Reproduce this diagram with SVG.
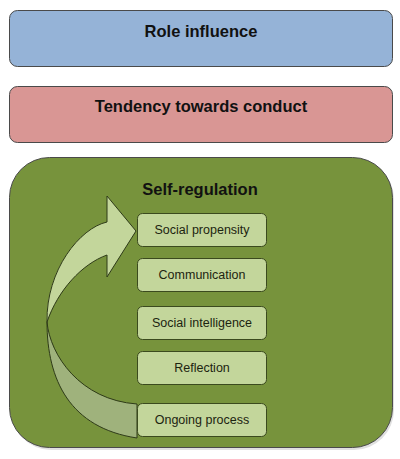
<svg xmlns="http://www.w3.org/2000/svg" width="400" height="459" viewBox="0 0 400 459">
<style>
.title{font-family:"Liberation Sans",Arial,sans-serif;font-weight:bold;font-size:16.5px;fill:#111;text-anchor:middle}
.item{font-family:"Liberation Sans",Arial,sans-serif;font-size:12.5px;fill:#1c2410;text-anchor:middle}
.outer{stroke:#4a4a4a;stroke-width:1}
.inner{fill:#c3d69b;stroke:#3b4a1e;stroke-width:1}
</style>
<rect width="400" height="459" fill="#ffffff"/>
<g id="role-influence">
<rect class="outer" x="9.5" y="10.5" width="383" height="56" rx="8" fill="#95b3d7"/>
<text class="title" x="201" y="36.5">Role influence</text>
</g>
<g id="tendency">
<rect class="outer" x="9.5" y="86.5" width="383" height="56" rx="8" fill="#d99694"/>
<text class="title" x="201" y="111.5">Tendency towards conduct</text>
</g>
<g id="self-regulation">
<rect x="11" y="159" width="383" height="291" rx="40" fill="#000" opacity="0.12"/>
<rect class="outer" x="9.5" y="157.5" width="383" height="290" rx="40" fill="#77933c"/>
<text class="title" x="200" y="195">Self-regulation</text>
</g>
<g id="connectors">
<path d="M47,322 C47,380 70,428 137,438 L137,404 C80,400 50,355 47,322 Z" fill="#9fb27c" stroke="#2e3a18" stroke-width="1"/>
<path d="M47,322 C46,270 80,228 107,222 L107,196 L136,231 L107,277 L107,255 C82,264 58,290 47,322 Z" fill="#c3d69b" stroke="#2e3a18" stroke-width="1"/>
</g>
<g id="social-propensity">
<rect class="inner" x="137.5" y="213.5" width="129" height="33" rx="5"/>
<text class="item" x="202" y="234">Social propensity</text>
</g>
<g id="communication">
<rect class="inner" x="137.5" y="258.5" width="129" height="33" rx="5"/>
<text class="item" x="202" y="279">Communication</text>
</g>
<g id="social-intelligence">
<rect class="inner" x="137.5" y="306.5" width="129" height="33" rx="5"/>
<text class="item" x="202" y="327">Social intelligence</text>
</g>
<g id="reflection">
<rect class="inner" x="137.5" y="351.5" width="129" height="33" rx="5"/>
<text class="item" x="202" y="372">Reflection</text>
</g>
<g id="ongoing-process">
<rect class="inner" x="137.5" y="403.5" width="129" height="33" rx="5"/>
<text class="item" x="202" y="424">Ongoing process</text>
</g>
</svg>
